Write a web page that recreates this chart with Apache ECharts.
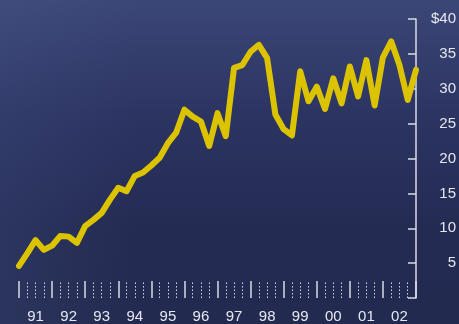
<!DOCTYPE html>
<html>
<head>
<meta charset="utf-8">
<script src="https://cdn.jsdelivr.net/npm/echarts@6/dist/echarts.min.js"></script>
<style>
  html, body { margin: 0; padding: 0; }
  #chart {
    width: 459px;
    height: 324px;
    background:
      linear-gradient(90deg, rgba(80, 100, 150, 0.18) 0%, rgba(80, 100, 150, 0) 30%),
      linear-gradient(180deg, #3b4777 0%, #2c3462 35%, #242b53 70%, #232a50 100%);
  }
</style>
</head>
<body>
<div id="chart"></div>
<script>
// quarterly price, first point = Q1 1991
const startYear = 1991;
const prices = [
  4.6, 6.4, 8.3, 6.9, 7.5, 8.9, 8.8, 7.9,
  10.3, 11.2, 12.2, 14.1, 15.8, 15.3, 17.5, 18.0,
  19.0, 20.1, 22.2, 23.7, 27.0, 26.0, 25.3, 21.8,
  26.5, 23.2, 33.0, 33.4, 35.3, 36.3, 34.4, 26.3,
  24.2, 23.3, 32.5, 28.2, 30.3, 27.1, 31.5, 27.9,
  33.2, 28.9, 34.1, 27.6, 34.5, 36.8, 33.4, 28.4,
  32.7
];
const yearLabels = ['91', '92', '93', '94', '95', '96', '97', '98', '99', '00', '01', '02'];

const points = prices.map((v, i) => [startYear + i / 4, v]);

const chart = echarts.init(document.getElementById('chart'));
const labelColor = '#e6e8ef';
const axisColor = '#d8dbe4';

chart.setOption({
  backgroundColor: 'transparent',
  animation: false,
  grid: { left: 19, right: 40, top: 19, bottom: 25 },
  xAxis: [
    {
      type: 'value',
      min: 1991,
      max: 2003,
      interval: 1,
      axisLine: { show: false },
      axisTick: { show: true, inside: true, length: 17, lineStyle: { color: axisColor, width: 1.5 } },
      minorTick: { show: true, splitNumber: 4, length: 17, lineStyle: { color: axisColor, width: 1, type: [1.5, 2] } },
      axisLabel: { show: false },
      splitLine: { show: false }
    },
    {
      type: 'category',
      position: 'bottom',
      data: yearLabels,
      boundaryGap: true,
      axisLine: { show: false },
      axisTick: { show: false },
      axisLabel: { color: labelColor, fontSize: 15, fontFamily: 'Liberation Sans', margin: 11 },
      splitLine: { show: false }
    }
  ],
  yAxis: {
    type: 'value',
    position: 'right',
    min: 0,
    max: 40,
    interval: 5,
    axisLine: { show: true, lineStyle: { color: axisColor, width: 1.5 } },
    axisTick: { show: true, inside: true, length: 8, lineStyle: { color: axisColor, width: 1.5 } },
    axisLabel: {
      color: labelColor,
      fontSize: 15,
      fontFamily: 'Liberation Sans',
      align: 'right',
      margin: 40,
      formatter: v => (v === 0 ? '' : v === 40 ? '$40' : String(v))
    },
    splitLine: { show: false }
  },
  series: [
    {
      type: 'line',
      xAxisIndex: 0,
      data: points,
      showSymbol: false,
      lineStyle: { color: '#dcc300', width: 6, cap: 'round', join: 'round' }
    }
  ]
});
</script>
</body>
</html>
